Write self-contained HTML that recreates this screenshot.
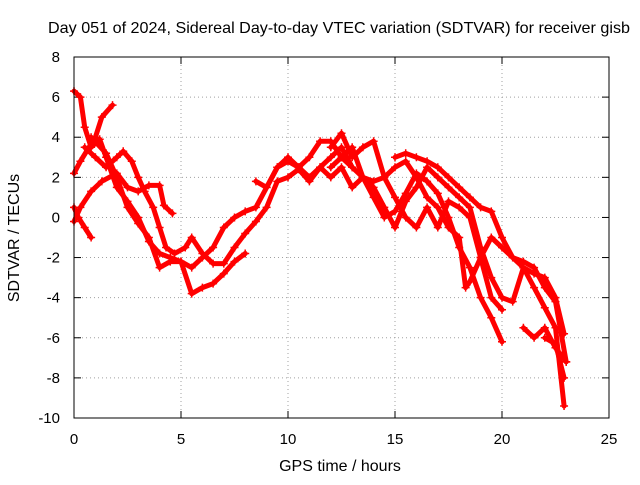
<!DOCTYPE html>
<html><head><meta charset="utf-8"><style>
body{margin:0;background:#fff;font-family:"Liberation Sans",sans-serif}
svg text{font-family:"Liberation Sans",sans-serif;font-size:15px;fill:#000}
svg text.big{font-size:16px}
</style></head><body>
<svg id="chart" width="640" height="480" viewBox="0 0 640 480">
<rect width="640" height="480" fill="#fff"/>
<text class="big" x="339" y="33" text-anchor="middle" textLength="582" lengthAdjust="spacingAndGlyphs">Day 051 of 2024, Sidereal Day-to-day VTEC variation (SDTVAR) for receiver gisb</text>
<g id="grid"></g>
<g id="axes"></g>
<g id="series"></g>
<rect x="74" y="57" width="535" height="361" fill="none" stroke="#000" stroke-width="1"/>
<text class="big" x="340" y="471" text-anchor="middle">GPS time / hours</text>
<text class="big" transform="translate(19,238) rotate(-90)" text-anchor="middle">SDTVAR / TECUs</text>
</svg>
<script>
const xTicks=[0,5,10,15,20,25];
const yTicks=[8,6,4,2,0,-2,-4,-6,-8,-10];
const track1=[[0,6.3],[0.3,6],[0.5,4.5],[0.8,3.5],[1.2,3.9],[1.5,3],[2,1.5],[2.5,0.8],[3,0],[3.5,-1.2],[4,-1.8],[4.5,-2],[5,-2.2],[5.5,-2.5],[6,-2],[6.5,-1.5],[7,-0.5],[7.5,0],[8,0.3],[8.5,0.5],[9,1.5],[9.5,2.5],[10,2.8],[10.5,2.5],[11,3],[11.5,3.8],[12,3.8],[12.5,3],[13,2.5]];
const track2=[[0,2.2],[0.3,2.8],[0.7,3.5],[1,4],[1.3,5],[1.8,5.6]];
const track3=[[0,0.5],[0.2,0],[0.5,-0.5],[0.8,-1]];
const track4=[[0,-0.2],[0.3,0.5],[0.8,1.3],[1.3,1.8],[2,2.2],[2.5,1.5],[3,1.3],[3.5,1.6],[4,1.6],[4.2,0.6],[4.6,0.2]];
const track5=[[0.5,3.5],[1,3],[1.5,2.5],[2,3],[2.3,3.3],[2.7,2.8],[3,2],[3.3,1.3],[3.7,0.5],[4,-0.5],[4.3,-1.5],[4.7,-1.8],[5.2,-1.5],[5.5,-1],[6,-1.8],[6.5,-2.3],[7,-2.3],[7.5,-1.5],[8,-0.8],[8.5,-0.2],[9,0.5],[9.5,1.8],[10,2],[10.5,2.4],[11,1.8],[11.5,2.5],[12,3],[12.5,3.5],[13,2.5],[13.5,2],[14,1.5],[14.5,0.5],[15,-0.5],[15.5,0.8],[16,1.5],[16.5,2.5],[17,2],[17.5,1.5],[18,1],[18.5,0.5],[19,-1.5],[19.5,-3],[20,-4],[20.5,-4.2],[21,-2.5],[21.5,-2.8],[22,-3],[22.5,-4],[22.9,-5.8]];
const track6=[[0.8,4],[1.5,3.2],[2,2],[2.5,0.5],[3,-0.3],[3.5,-1],[4,-2.5],[4.5,-2.2],[5,-2.2],[5.5,-3.8],[6,-3.5],[6.5,-3.3],[7,-2.8],[7.5,-2.2],[8,-1.8]];
const track7=[[8.5,1.8],[9,1.5],[9.5,2.5],[10,3],[10.5,2.5],[11,2],[11.5,2.5],[12,2],[12.5,2.5],[13,1.5],[13.5,2],[14,1.8],[14.5,2],[15,2.5],[15.5,2.8],[16,2],[16.5,1],[17,0.5],[17.5,-0.5],[18,-1],[18.3,-3.5],[18.5,-3.2],[19,-2],[19.5,-1],[20,-1.5],[20.5,-2],[21,-2.2],[21.5,-2.5],[22,-3.5],[22.5,-4.2],[23,-7.2]];
const track8=[[12,2.5],[12.5,3],[13,3.5],[13.5,2],[14,1],[14.5,0],[15,0.3],[15.5,1.2],[16,2.2],[16.5,1.8],[17,1.2],[17.5,0],[18,-1.5],[18.5,-2.5],[19,-4],[19.5,-5],[20,-6.2]];
const track9=[[15,3],[15.5,3.2],[16,3],[16.5,2.8],[17,2.5],[17.5,2],[18,1.5],[18.5,1],[19,0.5],[19.5,0.3],[20,-1],[20.5,-2],[21,-2.5],[21.5,-3.5],[22,-4.5],[22.5,-5.5],[22.9,-9.4]];
const track10=[[12,3.5],[12.5,4.2],[13,3],[13.5,3.5],[14,3.8],[14.5,2],[15,1],[15.5,0],[16,-0.5],[16.5,0.5],[17,-0.5],[17.5,0.8],[18,0.5],[18.5,0],[19,-2],[19.5,-4],[20,-4.6]];
const track11=[[21,-5.5],[21.5,-6],[22,-5.5],[22.5,-6.5],[23,-7.2]];
const track12=[[22,-6],[22.5,-6.3],[22.9,-8]];
const tracks=[track1,track2,track3,track4,track5,track6,track7,track8,track9,track10,track11,track12];
const NS='http://www.w3.org/2000/svg';
const X=v=>74+v*(535/25), Y=v=>57+(8-v)*(361/18);
function mk(t,a,p){const e=document.createElementNS(NS,t);for(const k in a)e.setAttribute(k,a[k]);p.appendChild(e);return e;}
const grid=document.getElementById('grid'),axes=document.getElementById('axes'),ser=document.getElementById('series');
xTicks.forEach(t=>{
 if(t>0&&t<25){const l=mk('line',{x1:X(t),x2:X(t),y1:57,y2:418,stroke:'#a0a0a0','stroke-dasharray':'1,3'},grid);}
 const tk=mk('line',{x1:X(t),x2:X(t),y1:418,y2:411,stroke:'#000'},axes);
 const tt=mk('line',{x1:X(t),x2:X(t),y1:57,y2:64,stroke:'#000'},axes);
 const tx=mk('text',{x:X(t),y:444,'text-anchor':'middle'},axes);tx.textContent=t;
});
yTicks.forEach(t=>{
 if(t>-10&&t<8){const l=mk('line',{x1:74,x2:609,y1:Y(t),y2:Y(t),stroke:'#a0a0a0','stroke-dasharray':'1,3'},grid);}
 const tk=mk('line',{x1:74,x2:81,y1:Y(t),y2:Y(t),stroke:'#000'},axes);
 const tr=mk('line',{x1:602,x2:609,y1:Y(t),y2:Y(t),stroke:'#000'},axes);
 const tx=mk('text',{x:60,y:Y(t)+5,'text-anchor':'end'},axes);tx.textContent=t;
});
tracks.forEach(tr=>{
 const d=tr.map((p,i)=>(i?'L':'M')+X(p[0]).toFixed(1)+','+Y(p[1]).toFixed(1)).join('');
 const path=mk('path',{d:d,fill:'none',stroke:'#ff0000','stroke-width':5,'stroke-linejoin':'round','stroke-linecap':'round'},ser);
 
 
 tr.forEach(p=>{const m=mk('path',{d:`M${X(p[0])-4},${Y(p[1])}h8M${X(p[0])},${Y(p[1])-4}v8`,stroke:'#ff0000','stroke-width':1.5},ser);
 
 });
});
</script>
</body></html>
